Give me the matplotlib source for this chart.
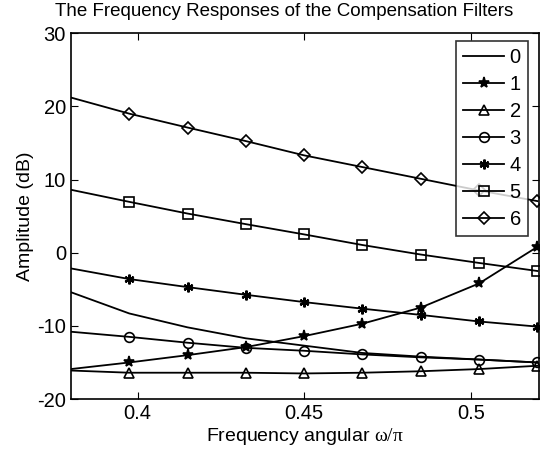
import numpy as np
import matplotlib
matplotlib.use("Agg")
from matplotlib import pyplot as plt

plt.rcParams['font.family'] = ['Liberation Sans', 'DejaVu Sans']
plt.rcParams['mathtext.fontset'] = 'custom'
plt.rcParams['mathtext.it'] = 'Liberation Serif'
plt.rcParams['mathtext.rm'] = 'Liberation Serif'
plt.rcParams['axes.unicode_minus'] = False

# normalised frequency samples
freq = [0.38, 0.3975, 0.415, 0.4325, 0.45, 0.4675, 0.485, 0.5025, 0.52]

# amplitude (dB) of each compensation filter
h0 = [-5.4, -8.3, -10.2, -11.7, -12.7, -13.7, -14.2, -14.6, -15.0]
h1 = [-15.9, -15.0, -14.0, -12.9, -11.4, -9.7, -7.5, -4.2, 0.8]
h2 = [-16.1, -16.4, -16.4, -16.4, -16.5, -16.4, -16.2, -15.9, -15.45]
h3 = [-10.8, -11.5, -12.3, -13.0, -13.4, -13.9, -14.3, -14.6, -15.0]
h4 = [-2.15, -3.6, -4.7, -5.75, -6.75, -7.65, -8.5, -9.4, -10.1]
h5 = [8.6, 6.95, 5.35, 3.9, 2.5, 1.05, -0.25, -1.4, -2.5]
h6 = [21.2, 19.0, 17.1, 15.25, 13.3, 11.7, 10.1, 8.5, 7.05]

labels = ['0', '1', '2', '3', '4', '5', '6']
series = [h0, h1, h2, h3, h4, h5, h6]
markers = [None, '*', '^', 'o', (6, 2, 0), 's', 'D']
msizes = [0, 8, 7, 7, 7, 6.5, 6]

fig = plt.figure(figsize=(5.54, 4.54), dpi=100)
ax = fig.add_axes([0.128, 0.121, 0.845, 0.806])

for lab, y, m, ms in zip(labels, series, markers, msizes):
    if m is None:
        ax.plot(freq, y, color='black', lw=1.3, label=lab)
    else:
        ax.plot(freq, y, color='black', lw=1.3, marker=m, ms=ms,
                mfc='none' if m in ('^', 'o', 's', 'D') else 'black',
                mec='black', mew=1.6 if m == (6, 2, 0) else 1.2,
                markevery=slice(1, None), label=lab)

ax.set_xlim(0.38, 0.5205)
ax.set_ylim(-20, 30)
ax.set_xticks([0.4, 0.45, 0.5])
ax.set_xticklabels(['0.4', '0.45', '0.5'])
ax.set_yticks([-20, -10, 0, 10, 20, 30])
ax.tick_params(direction='in', top=True, right=True, labelsize=14.5, length=5)
for s in ax.spines.values():
    s.set_linewidth(1.2)

ax.set_xlabel(r'Frequency angular $\omega/\pi$', fontsize=14, labelpad=2)
ax.set_ylabel('Amplitude (dB)', fontsize=14, labelpad=2)
ax.set_title('The Frequency Responses of the Compensation Filters',
             fontsize=13.5, pad=12, x=0.455)

leg = ax.legend(loc='upper right', bbox_to_anchor=(528 / 554, (454 - 41) / 454),
                bbox_transform=fig.transFigure, borderaxespad=0,
                fontsize=14.5, frameon=True, fancybox=False,
                edgecolor='black', handlelength=2.0, handletextpad=0.3,
                labelspacing=0.4, borderpad=0.35)
leg.get_frame().set_linewidth(1.2)

fig.savefig('out.png', dpi=100)
